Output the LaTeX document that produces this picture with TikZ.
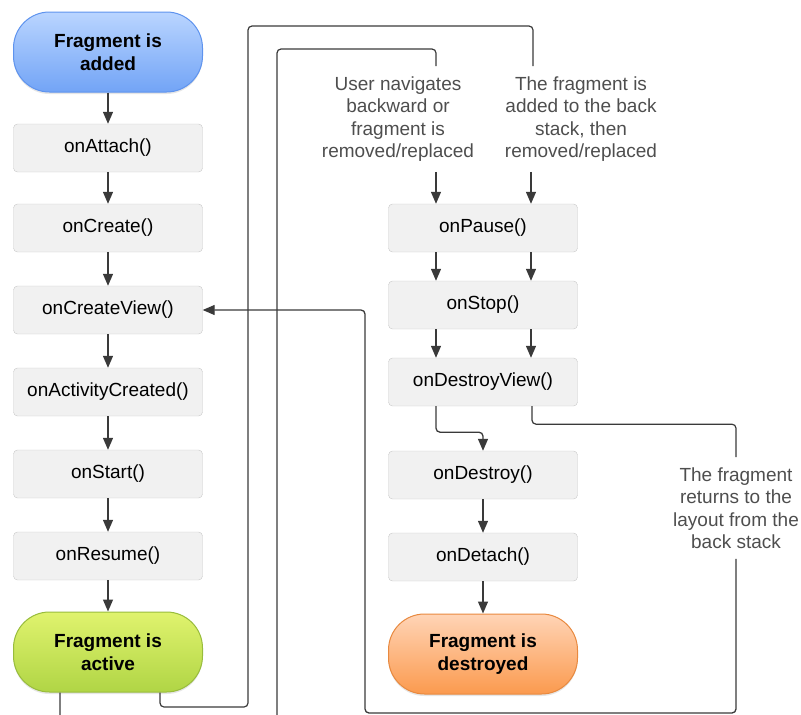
\documentclass[tikz,border=0pt]{standalone}
\usepackage{fontspec}
\setmainfont{Liberation Sans}
\usetikzlibrary{arrows.meta,shadows}
\definecolor{boxfill}{HTML}{F1F1F1}
\definecolor{boxline}{HTML}{C8C8C8}
\definecolor{lineclr}{HTML}{3A3A3A}
\definecolor{noteclr}{HTML}{4E4E4E}
\definecolor{bluetop}{HTML}{BAD5FF}
\definecolor{bluebot}{HTML}{72A4F6}
\definecolor{blueline}{HTML}{5E93EE}
\definecolor{greentop}{HTML}{E0F36E}
\definecolor{greenbot}{HTML}{B0D545}
\definecolor{greenline}{HTML}{98BC3C}
\definecolor{orangetop}{HTML}{FFD4B6}
\definecolor{orangebot}{HTML}{FB9A4E}
\definecolor{orangeline}{HTML}{E8893F}
\begin{document}
\begin{tikzpicture}
                    [x=1pt,y=-1pt,
                     every node/.style={font=\fontsize{19}{22.5}\selectfont},
                     call/.style={draw=boxline,fill=boxfill,rounded corners=4pt,minimum width=189pt,minimum height=48pt,inner sep=0pt},
                     pill/.style={rounded corners=36pt,minimum width=189pt,minimum height=80pt,align=center,line width=1pt,
                                  font=\fontsize{19}{22.5}\selectfont\bfseries,drop shadow={opacity=0.2,shadow xshift=0pt,shadow yshift=-2pt}},
                     flow/.style={draw=lineclr,line width=1.3pt,-{Triangle[width=10pt,length=12pt]}},
                     wire/.style={draw=lineclr,line width=1.2pt,rounded corners=4pt},
                     note/.style={text=noteclr,align=center,inner xsep=2pt,inner ysep=10pt}]

                    \useasboundingbox (0,0) rectangle (801,715);
                    \clip (0,0) rectangle (801,715);

                    % Colonne de gauche
                    \node [pill,draw=blueline,top color=bluetop,bottom color=bluebot] (added) at (108,52) {Fragment is\\added};
                    \node [call] (onattach) at (108,148) {onAttach()};
                    \node [call] (oncreate) at (108,228) {onCreate()};
                    \node [call] (oncreateview) at (108,310) {onCreateView()};
                    \node [call] (onactivitycreated) at (108,392) {onActivityCreated()};
                    \node [call] (onstart) at (108,474) {onStart()};
                    \node [call] (onresume) at (108,556) {onResume()};
                    \node [pill,draw=greenline,top color=greentop,bottom color=greenbot] (active) at (108,652) {Fragment is\\active};

                    \draw [flow] (added) -- (onattach); \draw [flow] (onattach) -- (oncreate); \draw [flow] (oncreate) -- (oncreateview);
                    \draw [flow] (oncreateview) -- (onactivitycreated); \draw [flow] (onactivitycreated) -- (onstart);
                    \draw [flow] (onstart) -- (onresume); \draw [flow] (onresume) -- (active);

                    % Colonne de droite
                    \node [call] (onpause) at (483,228) {onPause()};
                    \node [call] (onstop) at (483,305) {onStop()};
                    \node [call] (ondestroyview) at (483,382) {onDestroyView()};
                    \node [call] (ondestroy) at (483,475) {onDestroy()};
                    \node [call] (ondetach) at (483,557) {onDetach()};
                    \node [pill,draw=orangeline,top color=orangetop,bottom color=orangebot] (destroyed) at (483,654) {Fragment is\\destroyed};

                    \draw [flow] ([xshift=-47pt]onpause.south) -- ([xshift=-47pt]onstop.north); \draw [flow] ([xshift=48pt]onpause.south) -- ([xshift=48pt]onstop.north);
                    \draw [flow] ([xshift=-47pt]onstop.south) -- ([xshift=-47pt]ondestroyview.north); \draw [flow] ([xshift=48pt]onstop.south) -- ([xshift=48pt]ondestroyview.north);
                    \draw [flow,rounded corners=4pt] ([xshift=-47pt]ondestroyview.south) -- ++(0,26) -| (ondestroy.north);
                    \draw [flow] (ondestroy) -- (ondetach); \draw [flow] (ondetach) -- (destroyed);

                    % Textes
                    \node [note] (usernav) at (398,119) {User navigates\\backward or\\fragment is\\removed/replaced};
                    \node [note] (backstack) at (581,119) {The fragment is\\added to the back\\stack, then\\removed/replaced};
                    \node [note] (returns) at (736,508) {The fragment\\returns to the\\layout from the\\back stack};

                    \draw [flow] ([xshift=38pt]usernav.south) -- ([xshift=-47pt]onpause.north);
                    \draw [flow] ([xshift=-50pt]backstack.south) -- ([xshift=48pt]onpause.north);

                    % Retours
                    \draw [wire] ([xshift=-48pt]active.south) -- (60,740) -| (277,49) -| ([xshift=38pt]usernav.north);
                    \draw [wire] ([xshift=52pt]active.south) -- (160,707) -| (248,26) -| ([xshift=-48pt]backstack.north);
                    \draw [wire] ([xshift=49pt]ondestroyview.south) -- ++(0,18) -| (returns.north);
                    \draw [flow,rounded corners=4pt] (returns.south) |- (365,713) |- (oncreateview.east);
                \end{tikzpicture}
\end{document}
